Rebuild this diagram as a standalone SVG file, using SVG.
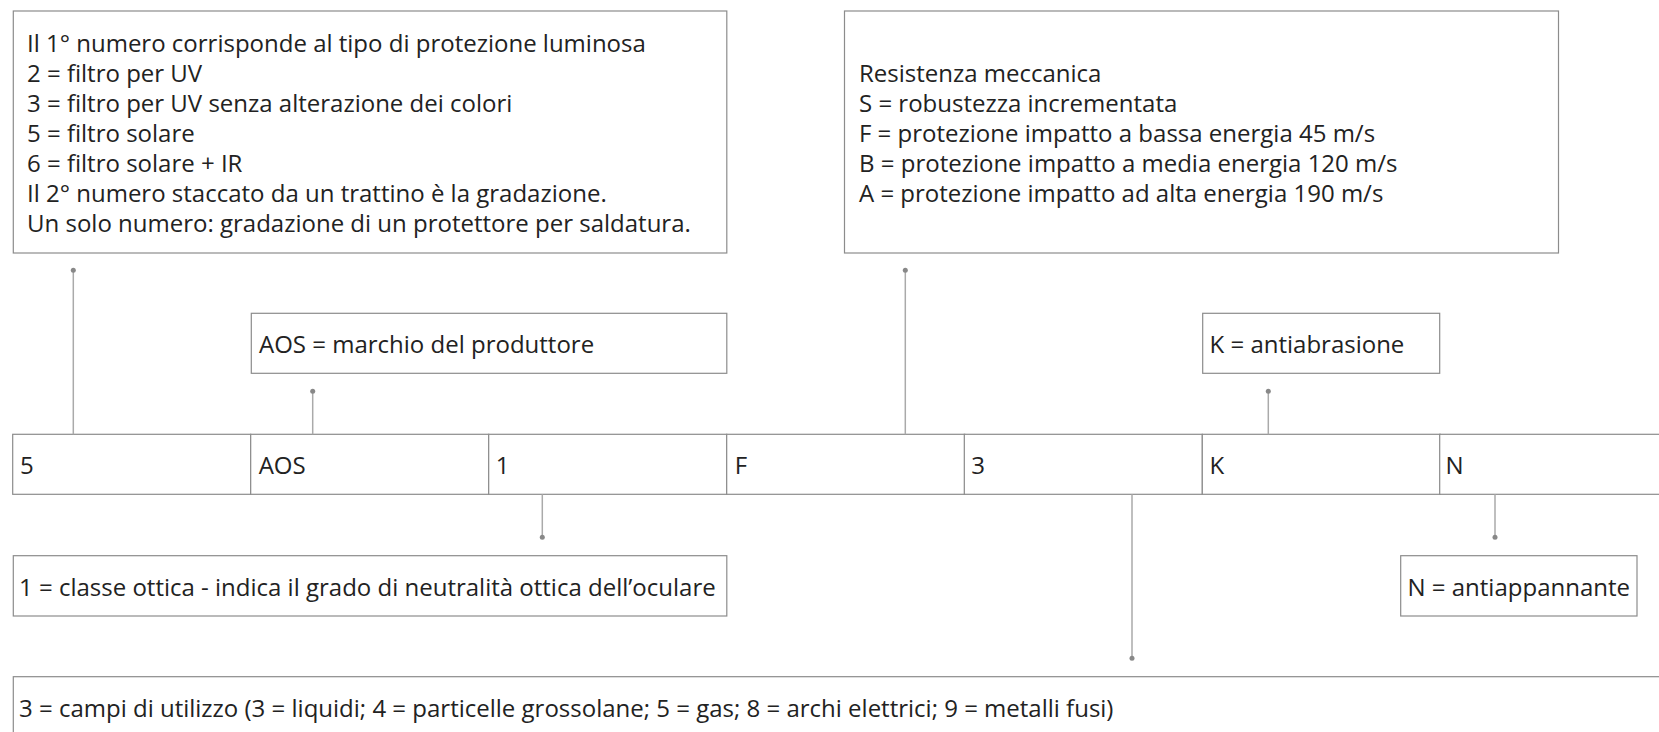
<svg xmlns="http://www.w3.org/2000/svg" width="1659" height="732" viewBox="0 0 1659 732">
<style>
text{font-family:"Open Sans","Noto Sans",sans-serif;font-size:24px;fill:#222}
.box{fill:#fff;stroke:#8c8c8c;stroke-width:1.2}
.cell{fill:#fff;stroke:#8c8c8c;stroke-width:1.2}
.con line{stroke:#aaa;stroke-width:1.5}
.con circle{fill:#888}
</style>
<rect width="1659" height="732" fill="#fff"/>
<g id="row">
<g id="cell-5"><rect class="cell" x="12.7" y="434.3" width="238" height="60"/><text x="20" y="474.3">5</text></g>
<g id="cell-AOS"><rect class="cell" x="250.7" y="434.3" width="238" height="60"/><text x="258.7" y="474.3">AOS</text></g>
<g id="cell-1"><rect class="cell" x="488.7" y="434.3" width="238" height="60"/><text x="495.7" y="474.3">1</text></g>
<g id="cell-F"><rect class="cell" x="726.7" y="434.3" width="238" height="60"/><text x="734.7" y="474.3">F</text></g>
<g id="cell-3"><rect class="cell" x="964.3" y="434.3" width="238" height="60"/><text x="971.3" y="474.3">3</text></g>
<g id="cell-K"><rect class="cell" x="1202.3" y="434.3" width="238" height="60"/><text x="1209.5" y="474.3">K</text></g>
<g id="cell-N"><rect class="cell" x="1439.7" y="434.3" width="238" height="60"/><text x="1445.5" y="474.3">N</text></g>
</g>
<g id="box-luminosa">
<rect class="box" x="13.3" y="11" width="713.5" height="242"/>
<text x="27">
<tspan x="27" y="51.7">Il 1° numero corrisponde al tipo di protezione luminosa</tspan>
<tspan x="27" y="81.7">2 = filtro per UV</tspan>
<tspan x="27" y="111.7">3 = filtro per UV senza alterazione dei colori</tspan>
<tspan x="27" y="141.7">5 = filtro solare</tspan>
<tspan x="27" y="171.7">6 = filtro solare + IR</tspan>
<tspan x="27" y="201.7">Il 2° numero staccato da un trattino è la gradazione.</tspan>
<tspan x="27" y="231.7">Un solo numero: gradazione di un protettore per saldatura.</tspan>
</text>
</g>
<g id="box-meccanica">
<rect class="box" x="844.5" y="11" width="714" height="242"/>
<text x="859">
<tspan x="859" y="81.7">Resistenza meccanica</tspan>
<tspan x="859" y="111.7">S = robustezza incrementata</tspan>
<tspan x="859" y="141.7">F = protezione impatto a bassa energia 45 m/s</tspan>
<tspan x="859" y="171.7">B = protezione impatto a media energia 120 m/s</tspan>
<tspan x="859" y="201.7">A = protezione impatto ad alta energia 190 m/s</tspan>
</text>
</g>
<g id="box-AOS">
<rect class="box" x="251.3" y="313.3" width="475.5" height="60"/>
<text x="259" y="353.3">AOS = marchio del produttore</text>
</g>
<g id="box-K">
<rect class="box" x="1202.7" y="313.3" width="237" height="60"/>
<text x="1209.5" y="353.3">K = antiabrasione</text>
</g>
<g id="box-1">
<rect class="box" x="13.3" y="555.7" width="713.5" height="60.3"/>
<text x="19" y="595.8">1 = classe ottica - indica il grado di neutralità ottica dell’oculare</text>
</g>
<g id="box-N">
<rect class="box" x="1400.7" y="555.7" width="236.3" height="60.3"/>
<text x="1407.5" y="595.5">N = antiappannante</text>
</g>
<g id="box-3">
<rect class="box" x="13.3" y="676.7" width="1664" height="60"/>
<text x="19" y="716.7">3 = campi di utilizzo (3 = liquidi; 4 = particelle grossolane; 5 = gas; 8 = archi elettrici; 9 = metalli fusi)</text>
</g>
<g id="connectors" class="con">
<line x1="73.3" y1="434.3" x2="73.3" y2="270.3"/><circle cx="73.3" cy="270.3" r="2.5"/>
<line x1="312.7" y1="434.3" x2="312.7" y2="391.2"/><circle cx="312.7" cy="391.2" r="2.5"/>
<line x1="905.3" y1="434.3" x2="905.3" y2="270.3"/><circle cx="905.3" cy="270.3" r="2.5"/>
<line x1="1268.3" y1="434.3" x2="1268.3" y2="391.2"/><circle cx="1268.3" cy="391.2" r="2.5"/>
<line x1="542.3" y1="494.3" x2="542.3" y2="537.3"/><circle cx="542.3" cy="537.3" r="2.5"/>
<line x1="1132" y1="494.3" x2="1132" y2="658.3"/><circle cx="1132" cy="658.3" r="2.5"/>
<line x1="1495" y1="494.3" x2="1495" y2="537.3"/><circle cx="1495" cy="537.3" r="2.5"/>
</g>
</svg>
